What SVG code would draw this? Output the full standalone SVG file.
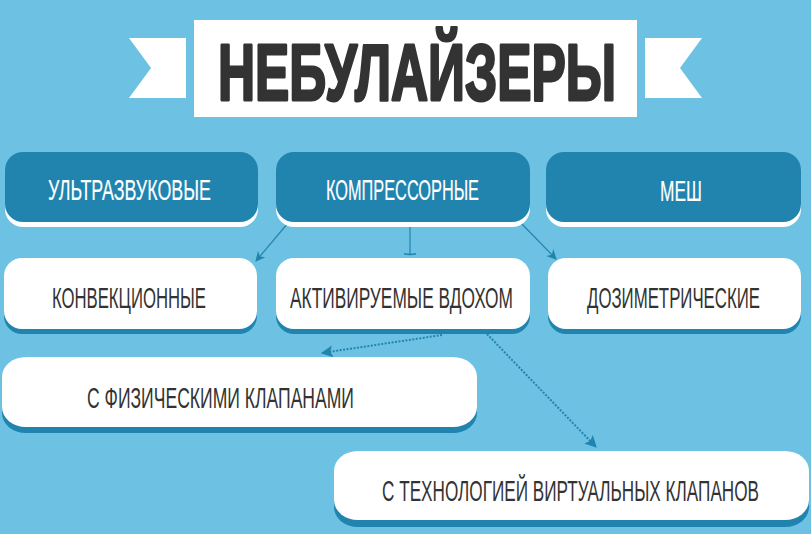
<svg xmlns="http://www.w3.org/2000/svg" width="811" height="534" viewBox="0 0 811 534">
<defs>
<style>
.bg{fill:#6dc2e3}
.dark{fill:#2084ae}
.white{fill:#ffffff}
.lt{font-family:"Liberation Sans",Arial,sans-serif;font-size:30px;fill:#ffffff;stroke:#ffffff;stroke-width:0.2;text-anchor:start}
.dt{font-family:"Liberation Sans",Arial,sans-serif;font-size:30px;fill:#333333;text-anchor:start}
.title{font-family:"Liberation Sans",Arial,sans-serif;font-weight:bold;font-size:80px;fill:#333333;stroke:#333333;stroke-width:3;stroke-linejoin:round}
.con{fill:none;stroke:#2084ae;stroke-width:1.2}
.dot{fill:none;stroke:#2084ae;stroke-width:2;stroke-dasharray:2 1.5}
</style>
<marker id="ah" viewBox="0 0 10 10" refX="9" refY="5" markerWidth="11" markerHeight="10" markerUnits="userSpaceOnUse" orient="auto">
<path d="M0,0 L10,5 L0,10 L3,5 Z" fill="#2084ae"/>
</marker>
<marker id="ahd" viewBox="0 0 10 10" refX="9" refY="5" markerWidth="13" markerHeight="12" markerUnits="userSpaceOnUse" orient="auto">
<path d="M0,0 L10,5 L0,10 L2,5 Z" fill="#2084ae"/>
</marker>
</defs>
<rect class="bg" x="0" y="0" width="811" height="534"/>

<g id="title">
<polygon class="white" points="129,38 186,38 186,98 129,98 151,68"/>
<polygon class="white" points="645,38 702,38 680,68 702,98 645,98"/>
<rect class="white" x="194" y="20" width="443" height="97"/>
<text class="title" transform="translate(218,100) scale(0.63,1)" x="0" y="0" textLength="631.7" lengthAdjust="spacingAndGlyphs">НЕБУЛАЙЗЕРЫ</text>
</g>

<g id="connectors">
<line class="con" x1="288" y1="223" x2="256" y2="261" marker-end="url(#ah)"/>
<line class="con" x1="410" y1="222" x2="410" y2="254"/>
<path d="M404,253 Q410,254.5 416,253 L416,254.5 Q410,256 404,254.5 Z" fill="#2084ae"/>
<line class="con" x1="520" y1="222" x2="556" y2="259" marker-end="url(#ah)"/>
<line class="dot" x1="442" y1="335" x2="322" y2="353" marker-end="url(#ahd)"/>
<line class="dot" x1="487" y1="334" x2="596" y2="447" marker-end="url(#ahd)"/>
</g>

<g id="n-ultra">
<rect class="white" x="5" y="157" width="253" height="70" rx="18"/>
<rect class="dark" x="5" y="152" width="253" height="70" rx="18"/>
<text class="lt" transform="translate(48,200) scale(0.58,1)" x="0" y="0" textLength="281" lengthAdjust="spacingAndGlyphs">УЛЬТРАЗВУКОВЫЕ</text>
</g>
<g id="n-compr">
<rect class="white" x="276" y="157" width="254" height="70" rx="18"/>
<rect class="dark" x="276" y="152" width="254" height="70" rx="18"/>
<text class="lt" transform="translate(326,200) scale(0.58,1)" x="0" y="0" textLength="263.8" lengthAdjust="spacingAndGlyphs">КОМПРЕССОРНЫЕ</text>
</g>
<g id="n-mesh">
<rect class="white" x="546" y="157" width="255" height="70" rx="18"/>
<rect class="dark" x="546" y="152" width="255" height="70" rx="18"/>
<text class="lt" transform="translate(660,201) scale(0.58,1)" x="0" y="0" textLength="72.4" lengthAdjust="spacingAndGlyphs">МЕШ</text>
</g>

<g id="n-conv">
<rect class="dark" x="4" y="263" width="253" height="71" rx="18"/>
<rect class="white" x="4" y="258" width="253" height="71" rx="18"/>
<text class="dt" transform="translate(52,308) scale(0.58,1)" x="0" y="0" textLength="265.5" lengthAdjust="spacingAndGlyphs">КОНВЕКЦИОННЫЕ</text>
</g>
<g id="n-breath">
<rect class="dark" x="276" y="263" width="254" height="71" rx="18"/>
<rect class="white" x="276" y="258" width="254" height="71" rx="18"/>
<text class="dt" transform="translate(290,308) scale(0.58,1)" x="0" y="0" textLength="384.5" lengthAdjust="spacingAndGlyphs">АКТИВИРУЕМЫЕ ВДОХОМ</text>
</g>
<g id="n-dosim">
<rect class="dark" x="548" y="263" width="253" height="71" rx="18"/>
<rect class="white" x="548" y="258" width="253" height="71" rx="18"/>
<text class="dt" transform="translate(587,308) scale(0.58,1)" x="0" y="0" textLength="298.3" lengthAdjust="spacingAndGlyphs">ДОЗИМЕТРИЧЕСКИЕ</text>
</g>

<g id="n-phys">
<rect class="dark" x="2" y="363" width="475" height="70" rx="24" ry="20"/>
<rect class="white" x="2" y="357" width="475" height="70" rx="24" ry="20"/>
<text class="dt" transform="translate(87,408) scale(0.58,1)" x="0" y="0" textLength="460.3" lengthAdjust="spacingAndGlyphs">С ФИЗИЧЕСКИМИ КЛАПАНАМИ</text>
</g>
<g id="n-virt">
<rect class="dark" x="334" y="457" width="475" height="70" rx="24" ry="20"/>
<rect class="white" x="334" y="451" width="475" height="69" rx="24" ry="20"/>
<text class="dt" transform="translate(382,501) scale(0.58,1)" x="0" y="0" textLength="650" lengthAdjust="spacingAndGlyphs">С ТЕХНОЛОГИЕЙ ВИРТУАЛЬНЫХ КЛАПАНОВ</text>
</g>
</svg>
